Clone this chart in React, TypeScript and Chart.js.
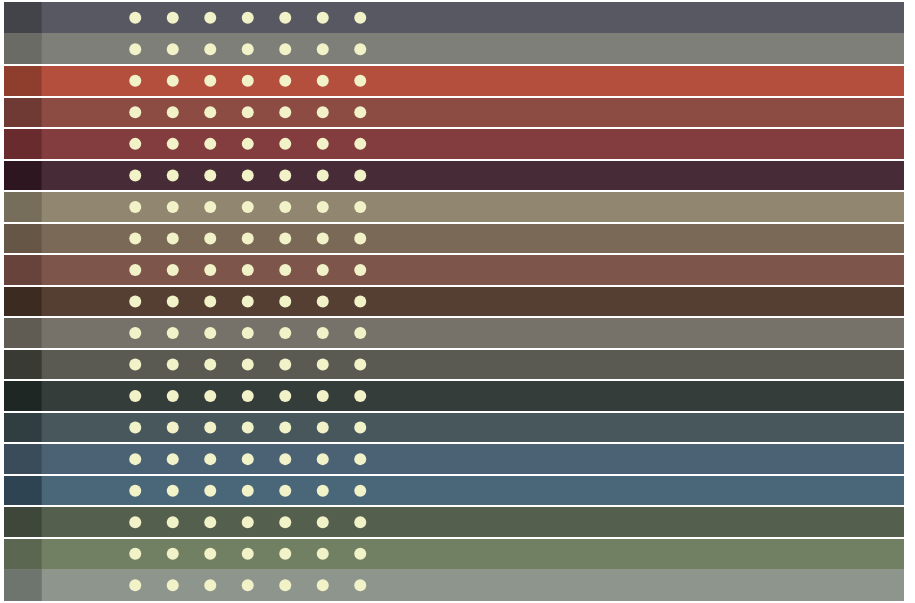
import React, { useEffect, useRef } from "react";
import { Chart, registerables } from "chart.js";

Chart.register(...registerables);

const bands = [
  "R1", "R2", "R3", "R4", "R5", "R6", "R7", "R8", "R9", "R10",
  "R11", "R12", "R13", "R14", "R15", "R16", "R17", "R18", "R19",
];
const mainColors = [
  "#575862", "#7f7f79", "#b34f3c", "#8c4b43", "#833d3e", "#472b36", "#918670",
  "#7b6957", "#7e554a", "#553f32", "#777269", "#5b5a52", "#353d3a", "#48575c",
  "#4b6274", "#4a6679", "#545f4e", "#718063", "#8e958d",
];
const stripColors = [
  "#434449", "#6b6b66", "#8f3e2e", "#6e3a33", "#692b2d", "#2e1621", "#766d5b",
  "#655646", "#68433b", "#3c2b21", "#605c53", "#3a3a34", "#1f2724", "#313e41",
  "#3a4b5a", "#2e4452", "#3e4739", "#5b6750", "#6e756f",
];
const xMin = 0;
const xMax = 24;
const stripRange: [number, number] = [0, 1];
const mainRange: [number, number] = [1, 24];
const dotColumns = [3.5, 4.5, 5.5, 6.5, 7.5, 8.5, 9.5];
const gapBoundaries = [2, 3, 4, 5, 6, 7, 8, 9, 10, 11, 12, 13, 14, 15, 16, 17];

export default function App() {
  const ref = useRef<HTMLCanvasElement | null>(null);

  useEffect(() => {
    document.body.style.margin = "0";
    const canvas = ref.current;
    if (!canvas) return;
    const dots: { x: number; y: string }[] = [];
    bands.forEach((b) => dotColumns.forEach((c) => dots.push({ x: c, y: b })));

    const chart = new Chart(canvas, {
      type: "bar",
      data: {
        labels: bands,
        datasets: [
          {
            type: "line",
            data: dots as any,
            showLine: false,
            pointRadius: 6,
            pointHoverRadius: 6,
            pointBackgroundColor: "#f1f2c8",
            pointBorderWidth: 0,
            borderWidth: 0,
            order: 0,
          } as any,
          {
            data: bands.map(() => mainRange),
            backgroundColor: mainColors,
            barPercentage: 1,
            categoryPercentage: 1,
            grouped: false,
            order: 2,
          } as any,
          {
            data: bands.map(() => stripRange),
            backgroundColor: stripColors,
            barPercentage: 1,
            categoryPercentage: 1,
            grouped: false,
            order: 1,
          } as any,
        ],
      },
      options: {
        indexAxis: "y",
        animation: false,
        responsive: true,
        maintainAspectRatio: false,
        layout: {
          autoPadding: false,
          padding: { left: 4, right: 11, top: 2, bottom: 2 },
        },
        plugins: { legend: { display: false }, tooltip: { enabled: false } },
        scales: {
          x: {
            type: "linear",
            min: xMin,
            max: xMax,
            display: false,
          },
          y: {
            type: "category",
            offset: true,
            ticks: { display: false },
            border: { display: false },
            grid: {
              z: 1,
              offset: true,
              drawTicks: false,
              lineWidth: 2,
              color: (c: any) =>
                gapBoundaries.includes(c.index) ? "#ffffff" : "rgba(0,0,0,0)",
            },
          },
        },
      } as any,
    });
    return () => chart.destroy();
  }, []);

  return (
    <div style={{ width: 915, height: 603, position: "relative" }}>
      <canvas ref={ref} />
    </div>
  );
}
